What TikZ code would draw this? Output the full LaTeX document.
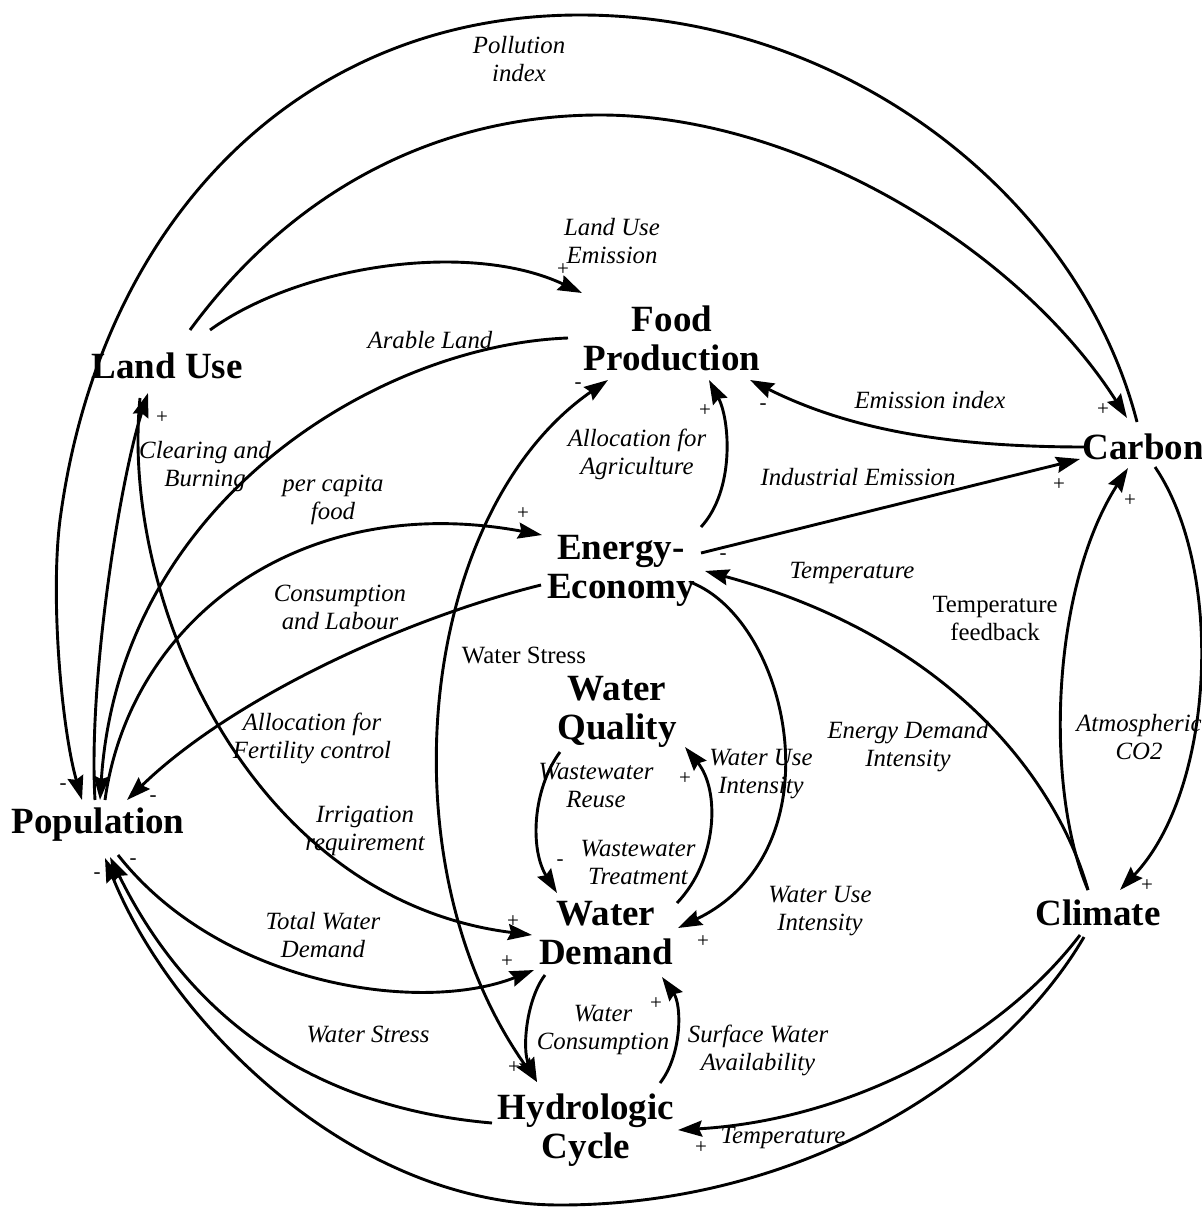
\documentclass[tikz,border=0pt]{standalone}
\usepackage{fontspec}
\setmainfont{Liberation Serif}
\usetikzlibrary{arrows.meta}
\begin{document}
\begin{tikzpicture}[x=0.5pt,y=-0.5pt,
  var/.style={font=\fontsize{18.5}{19.5}\selectfont\bfseries, align=center, inner sep=0pt},
  lab/.style={font=\fontsize{12.4}{14}\selectfont\itshape, align=center, inner sep=0pt},
  labup/.style={font=\fontsize{12.4}{14}\selectfont, align=center, inner sep=0pt},
  sgn/.style={font=\fontsize{10.5}{10.5}\selectfont, inner sep=0pt},
  lnk/.style={line width=1.45pt, -{Stealth[length=12pt,width=8pt,inset=1.5pt]}},
  lnkboth/.style={line width=1.45pt, {Stealth[length=12pt,width=8pt,inset=1.5pt]}-{Stealth[length=12pt,width=8pt,inset=1.5pt]}}
]
\useasboundingbox (0,0) rectangle (1202,1208);

% variables
\node[var] (lu) at (167,366) {Land Use};
\node[var] (food) at (672,338) {Food\\Production};
\node[var] (carbon) at (1143,447) {Carbon};
\node[var] (energy) at (621,571) {Energy-\\Economy};
\node[var] (wq) at (617,712) {Water\\Quality};
\node[var] (pop) at (98,825) {Population};
\node[var] (wd) at (606,933) {Water\\Demand};
\node[var] (climate) at (1098,913) {Climate};
\node[var] (hydro) at (586,1130) {Hydrologic\\Cycle};

% connectors
\draw[lnk] ([shift={(-6,-25)}]carbon.center) .. controls (1080,200) and (850,15) .. (580,15) .. controls (300,15) and (100,220) .. (60,520) .. controls (50,600) and (62,730) .. ([shift={(-16,-25)}]pop.center);
\draw[lnk] ([shift={(23,-36)}]lu.center) .. controls (300,180) and (450,115) .. (600,115) .. controls (800,115) and (1020,250) .. ([shift={(-16,-29)}]carbon.center);
\draw[lnk] ([shift={(43,-36)}]lu.center) .. controls (300,265) and (470,240) .. ([shift={(-90,-45)}]food.center);
\draw[lnk] ([shift={(-104,0)}]food.center) .. controls (380,345) and (120,500) .. ([shift={(2,-25)}]pop.center);
\draw[lnk] ([shift={(7,-25)}]pop.center) .. controls (130,620) and (300,490) .. ([shift={(-79,-36)}]energy.center);
\draw[lnk] ([shift={(-80,14)}]energy.center) .. controls (400,620) and (230,700) .. ([shift={(29,-25)}]pop.center);
\draw[lnk] ([shift={(-3,-25)}]pop.center) .. controls (88,680) and (120,480) .. ([shift={(-19,27)}]lu.center);
\draw[lnk] ([shift={(-27,32)}]lu.center) .. controls (120,600) and (250,900) .. ([shift={(-74,2)}]wd.center);
\draw[lnk] ([shift={(20,30)}]pop.center) .. controls (220,985) and (420,1015) .. ([shift={(-72,37)}]wd.center);
\draw[lnk] ([shift={(-94,-7)}]hydro.center) .. controls (340,1110) and (200,1040) .. ([shift={(12,32)}]pop.center);
\draw[lnk] ([shift={(-14,24)}]climate.center) .. controls (1000,1080) and (800,1205) .. (560,1205) .. controls (350,1205) and (170,1020) .. ([shift={(7,33)}]pop.center);
\draw[lnk] ([shift={(-18,22)}]climate.center) .. controls (1000,1040) and (850,1120) .. ([shift={(92,0)}]hydro.center);
\draw[lnk] ([shift={(-61,42)}]wd.center) .. controls (526,1000) and (522,1050) .. ([shift={(-49,-48)}]hydro.center);
\draw[lnk] ([shift={(74,-47)}]hydro.center) .. controls (682,1055) and (682,1005) .. ([shift={(56,44)}]wd.center);
\draw[lnk] ([shift={(-57,40)}]wq.center) .. controls (532,790) and (530,850) .. ([shift={(-49,-40)}]wd.center);
\draw[lnk] ([shift={(71,-30)}]wd.center) .. controls (718,860) and (720,790) .. ([shift={(68,35)}]wq.center);
\draw[lnk] ([shift={(69,11)}]energy.center) .. controls (790,620) and (840,850) .. ([shift={(72,-5)}]wd.center);
\draw[lnk] ([shift={(80,-44)}]energy.center) .. controls (735,490) and (730,420) .. ([shift={(37,42)}]food.center);
\draw[lnk] ([shift={(80,-18)}]energy.center) -- ([shift={(-63,12)}]carbon.center);
\draw[lnk] ([shift={(-58,0)}]carbon.center) .. controls (950,447) and (850,430) .. ([shift={(78,42)}]food.center);
\draw[lnk] ([shift={(-10,-23)}]climate.center) .. controls (1060,790) and (960,640) .. ([shift={(84,0)}]energy.center);
\draw[lnk] ([shift={(-10,-23)}]climate.center) .. controls (1045,790) and (1050,590) .. ([shift={(-15,21)}]carbon.center);
\draw[lnk] ([shift={(12,20)}]carbon.center) .. controls (1225,570) and (1215,790) .. ([shift={(22,-23)}]climate.center);
\draw[lnkboth] ([shift={(-64,42)}]food.center) .. controls (420,510) and (380,860) .. ([shift={(-49,-48)}]hydro.center);

% link labels
\node[lab] (l1) at (519,59) {Pollution\\index};
\node[lab] (l2) at (612,241) {Land Use\\Emission};
\node[lab] (l3) at (430,340) {Arable Land};
\node[lab] (l4) at (930,400) {Emission index};
\node[lab] (l5) at (637,454) {Allocation for\\Agriculture};
\node[lab] (l6) at (858,477) {Industrial Emission};
\node[lab] (l7) at (205,467) {Clearing and\\Burning};
\node[lab] (l8) at (333,500) {per capita\\food};
\node[lab] (l9) at (852,573) {Temperature};
\node[lab] (l10) at (340,607) {Consumption\\and Labour};
\node[labup] (l11) at (995,618) {Temperature\\feedback};
\node[labup] (l12) at (524,655) {Water Stress};
\node[lab] (l13) at (312,738) {Allocation for\\Fertility control};
\node[lab] (l14) at (908,747) {Energy Demand\\Intensity};
\node[lab] (l15) at (1139,737) {Atmospheric\\CO2};
\node[lab] (l16) at (761,774) {Water Use\\Intensity};
\node[lab] (l17) at (596,786) {Wastewater\\Reuse};
\node[lab] (l18) at (365,831) {Irrigation\\requirement};
\node[lab] (l19) at (638,862) {Wastewater\\Treatment};
\node[lab] (l20) at (820,911) {Water Use\\Intensity};
\node[lab] (l21) at (323,935) {Total Water\\Demand};
\node[lab] (l22) at (603,1030) {Water\\Consumption};
\node[lab] (l23) at (758,1050) {Surface Water\\Availability};
\node[lab] (l24) at (368,1034) {Water Stress};
\node[lab] (l25) at (783,1138) {Temperature};

% polarity signs
\node[sgn] (s1) at (563,270) {+};
\node[sgn] (s2) at (162,418) {+};
\node[sgn] (s3) at (578,386) {-};
\node[sgn] (s4) at (705,411) {+};
\node[sgn] (s5) at (763,407) {-};
\node[sgn] (s6) at (1103,410) {+};
\node[sgn] (s7) at (1059,485) {+};
\node[sgn] (s8) at (1130,501) {+};
\node[sgn] (s9) at (523,514) {+};
\node[sgn] (s10) at (723,557) {-};
\node[sgn] (s11) at (63,787) {-};
\node[sgn] (s12) at (153,799) {-};
\node[sgn] (s13) at (560,863) {-};
\node[sgn] (s14) at (685,779) {+};
\node[sgn] (s15) at (1147,886) {+};
\node[sgn] (s16) at (513,922) {+};
\node[sgn] (s17) at (507,962) {+};
\node[sgn] (s18) at (703,942) {+};
\node[sgn] (s19) at (97,876) {-};
\node[sgn] (s20) at (133,862) {-};
\node[sgn] (s21) at (656,1004) {+};
\node[sgn] (s22) at (514,1068) {+};
\node[sgn] (s23) at (701,1148) {+};
\end{tikzpicture}
\end{document}
